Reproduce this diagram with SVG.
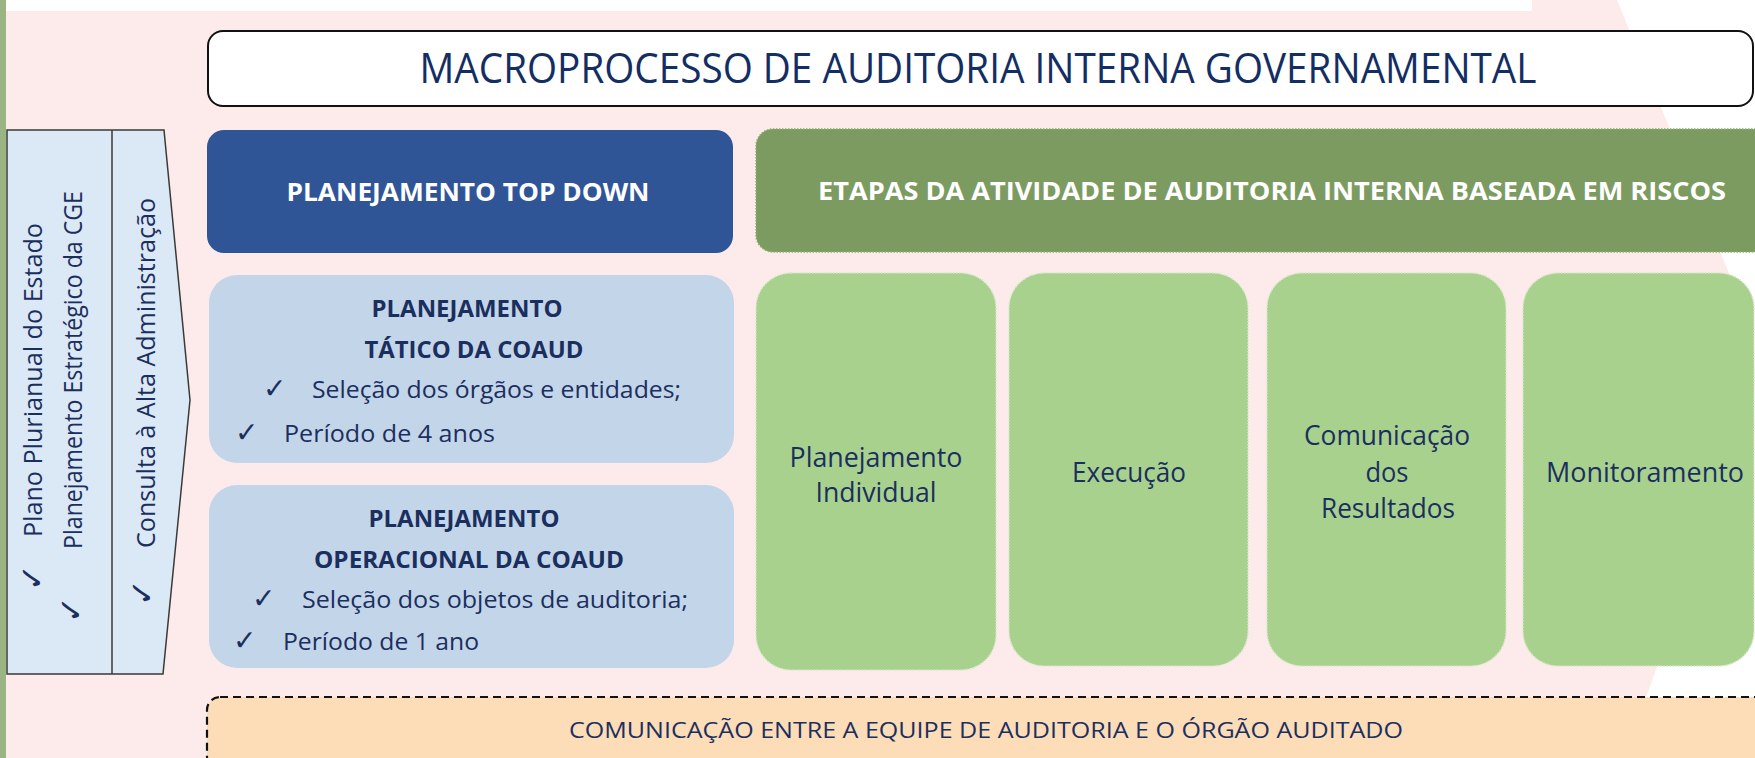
<svg xmlns="http://www.w3.org/2000/svg" width="1755" height="758" viewBox="0 0 1755 758">
<style>
  .t { font-family: "Open Sans", "Noto Sans", "DejaVu Sans", sans-serif; }
  .b { font-weight: bold; }
  .navy { fill: #1b2f5e; }
  .chk { font-family: "DejaVu Sans", sans-serif; fill: #1b2f5e; }
  .lb { fill: #c3d5e9; }
  .gb { fill: #a9d18e; stroke: #d4e8c6; stroke-width: 1.5; stroke-dasharray: 1.5 1.5; }
</style>
<rect x="0" y="0" width="1755" height="758" fill="#ffffff"/>
<path d="M6,11 H1532 V0 H1617 L1740,300 C1790,420 1700,560 1657,667 L1645,700 V758 H6 Z" fill="#fdebeb"/>
<rect x="0" y="0" width="6" height="758" fill="#9ab583"/>

<g id="title">
  <rect x="208" y="31" width="1545" height="75" rx="15" fill="#ffffff" stroke="#111111" stroke-width="2"/>
  <text class="t" x="978" y="83" font-size="42" fill="#132e63" text-anchor="middle" textLength="1117" lengthAdjust="spacingAndGlyphs">MACROPROCESSO DE AUDITORIA INTERNA GOVERNAMENTAL</text>
</g>

<g id="left-panel">
  <path d="M7,130 H164 L190,400 L163,674 H7 Z" fill="#dbe8f5" stroke="#3a3a3a" stroke-width="1.5"/>
  <line x1="112" y1="130" x2="112" y2="674" stroke="#3a3a3a" stroke-width="1.5"/>
  <text class="chk" font-size="32" transform="translate(43,591) rotate(-90)">✓</text>
  <text class="t navy" font-size="26" transform="translate(42,537) rotate(-90)" textLength="314" lengthAdjust="spacingAndGlyphs">Plano Plurianual do Estado</text>
  <text class="chk" font-size="32" transform="translate(82,623) rotate(-90)">✓</text>
  <text class="t navy" font-size="26" transform="translate(82,549) rotate(-90)" textLength="358" lengthAdjust="spacingAndGlyphs">Planejamento Estratégico da CGE</text>
  <text class="chk" font-size="32" transform="translate(153,606) rotate(-90)">✓</text>
  <text class="t navy" font-size="26" transform="translate(155,548) rotate(-90)" textLength="350" lengthAdjust="spacingAndGlyphs">Consulta à Alta Administração</text>
</g>

<g id="top-down">
  <rect x="207" y="130" width="526" height="123" rx="17" fill="#2f5597"/>
  <text class="t b" x="468" y="201" font-size="25.5" fill="#ffffff" text-anchor="middle" textLength="363" lengthAdjust="spacingAndGlyphs">PLANEJAMENTO TOP DOWN</text>
</g>

<g id="tatico">
  <rect class="lb" x="209" y="275" width="525" height="188" rx="28"/>
  <text class="t b navy" x="467" y="317" font-size="23" text-anchor="middle" textLength="191" lengthAdjust="spacingAndGlyphs">PLANEJAMENTO</text>
  <text class="t b navy" x="474" y="358" font-size="23" text-anchor="middle" textLength="219" lengthAdjust="spacingAndGlyphs">TÁTICO DA COAUD</text>
  <text class="chk" x="263" y="398" font-size="28">✓</text>
  <text class="t navy" x="312" y="398" font-size="24" textLength="369" lengthAdjust="spacingAndGlyphs">Seleção dos órgãos e entidades;</text>
  <text class="chk" x="235" y="442" font-size="28">✓</text>
  <text class="t navy" x="284" y="442" font-size="24" textLength="211" lengthAdjust="spacingAndGlyphs">Período de 4 anos</text>
</g>

<g id="operacional">
  <rect class="lb" x="209" y="485" width="525" height="183" rx="28"/>
  <text class="t b navy" x="464" y="527" font-size="23" text-anchor="middle" textLength="191" lengthAdjust="spacingAndGlyphs">PLANEJAMENTO</text>
  <text class="t b navy" x="469" y="568" font-size="23" text-anchor="middle" textLength="310" lengthAdjust="spacingAndGlyphs">OPERACIONAL DA COAUD</text>
  <text class="chk" x="252" y="608" font-size="28">✓</text>
  <text class="t navy" x="302" y="608" font-size="24" textLength="386" lengthAdjust="spacingAndGlyphs">Seleção dos objetos de auditoria;</text>
  <text class="chk" x="233" y="650" font-size="28">✓</text>
  <text class="t navy" x="283" y="650" font-size="24" textLength="196" lengthAdjust="spacingAndGlyphs">Período de 1 ano</text>
</g>

<g id="etapas">
  <rect x="756" y="129" width="1020" height="123" rx="17" fill="#77975b" fill-opacity="0.96" stroke="#8fae73" stroke-width="1.5" stroke-dasharray="1.5 1.5"/>
  <text class="t b" x="1272" y="200" font-size="25.5" fill="#ffffff" text-anchor="middle" textLength="908" lengthAdjust="spacingAndGlyphs">ETAPAS DA ATIVIDADE DE AUDITORIA INTERNA BASEADA EM RISCOS</text>
</g>

<g id="planejamento-individual">
  <rect class="gb" x="756" y="273" width="240" height="397" rx="35"/>
  <text class="t navy" x="876" y="467" font-size="27" text-anchor="middle" textLength="173" lengthAdjust="spacingAndGlyphs">Planejamento</text>
  <text class="t navy" x="876" y="502" font-size="27" text-anchor="middle" textLength="121" lengthAdjust="spacingAndGlyphs">Individual</text>
</g>

<g id="execucao">
  <rect class="gb" x="1009" y="273" width="239" height="393" rx="35"/>
  <text class="t navy" x="1129" y="482" font-size="27" text-anchor="middle" textLength="114" lengthAdjust="spacingAndGlyphs">Execução</text>
</g>

<g id="comunicacao">
  <rect class="gb" x="1267" y="273" width="239" height="393" rx="35"/>
  <text class="t navy" x="1387" y="445" font-size="27" text-anchor="middle" textLength="166" lengthAdjust="spacingAndGlyphs">Comunicação</text>
  <text class="t navy" x="1387" y="482" font-size="27" text-anchor="middle" textLength="43" lengthAdjust="spacingAndGlyphs">dos</text>
  <text class="t navy" x="1388" y="518" font-size="27" text-anchor="middle" textLength="134" lengthAdjust="spacingAndGlyphs">Resultados</text>
</g>

<g id="monitoramento">
  <rect class="gb" x="1523" y="273" width="231" height="393" rx="35"/>
  <text class="t navy" x="1645" y="482" font-size="27" text-anchor="middle" textLength="198" lengthAdjust="spacingAndGlyphs">Monitoramento</text>
</g>

<g id="comunicacao-equipe">
  <rect x="207" y="697" width="1580" height="100" rx="13" fill="#fddcb8" stroke="#111111" stroke-width="2.2" stroke-dasharray="8 5"/>
  <text class="t navy" x="986" y="738" font-size="22" text-anchor="middle" textLength="834" lengthAdjust="spacingAndGlyphs">COMUNICAÇÃO ENTRE A EQUIPE DE AUDITORIA E O ÓRGÃO AUDITADO</text>
</g>

<g id="connectors"></g>
</svg>
